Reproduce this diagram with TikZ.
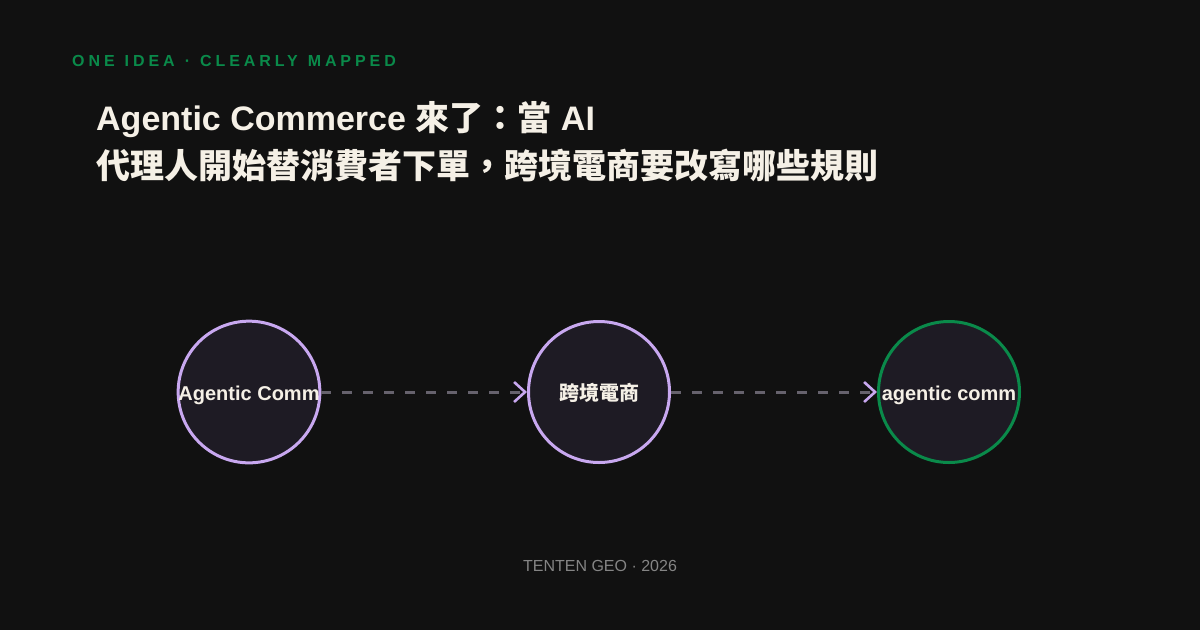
\documentclass[tikz,border=0pt]{standalone}
\usepackage{fontspec}
\setmainfont{Liberation Sans}
\newfontfamily\cjk{Noto Sans CJK TC}
\newfontfamily\spacedfont[LetterSpace=24.5,WordSpace=1.2]{Liberation Sans}
\usetikzlibrary{arrows.meta}
\definecolor{bg}{HTML}{111111}
\definecolor{nodefill}{HTML}{1E1B24}
\definecolor{lav}{HTML}{C8A8F0}
\definecolor{grn}{HTML}{0A8A4A}
\definecolor{cream}{HTML}{F5F0E6}
\definecolor{foot}{HTML}{858585}
\definecolor{dash}{HTML}{66626D}
\tikzset{
  circ/.style={circle, minimum size=141pt, inner sep=0pt, line width=3pt, fill=nodefill, text=cream,
    text height=16pt, text depth=0pt, font=\fontsize{20}{24}\selectfont\bfseries},
  lavcirc/.style={circ, draw=lav},
  grncirc/.style={circ, draw=grn},
  flow/.style={draw=dash, line width=3pt, dash pattern=on 10pt off 11pt,
    -{Straight Barb[color=lav, length=11pt, width=20pt, line width=2.6pt]}},
}
\begin{document}
\begin{tikzpicture}[x=1pt,y=-1pt]
\fill[bg] (0,0) rectangle (1200,630);
\useasboundingbox (0,0) rectangle (1200,630);
\node[anchor=base west, inner sep=0pt, text=grn, font=\spacedfont\fontsize{16}{19}\selectfont\bfseries] (sub) at (72,66) {ONE IDEA · CLEARLY MAPPED};
\node[anchor=base west, inner sep=0pt, text=cream, font=\fontsize{34}{40}\selectfont\bfseries] (t1) at (96,130) {Agentic Commerce {\cjk 來了：當} AI};
\node[anchor=base west, inner sep=0pt, text=cream, font=\fontsize{34}{40}\selectfont\bfseries] (t2) at (96,178) {\cjk 代理人開始替消費者下單，跨境電商要改寫哪些規則};
\node[lavcirc] (a) at (249,392) {Agentic Comm};
\node[lavcirc] (b) at (599,392) {\cjk 跨境電商};
\node[grncirc] (c) at (949,392) {agentic comm};
\draw[flow] (a) -- (b);
\draw[flow] (b) -- (c);
\node[anchor=base, inner sep=0pt, text=foot, font=\fontsize{16}{19}\selectfont] (ft) at (600,571) {TENTEN GEO · 2026};
\end{tikzpicture}
\end{document}
